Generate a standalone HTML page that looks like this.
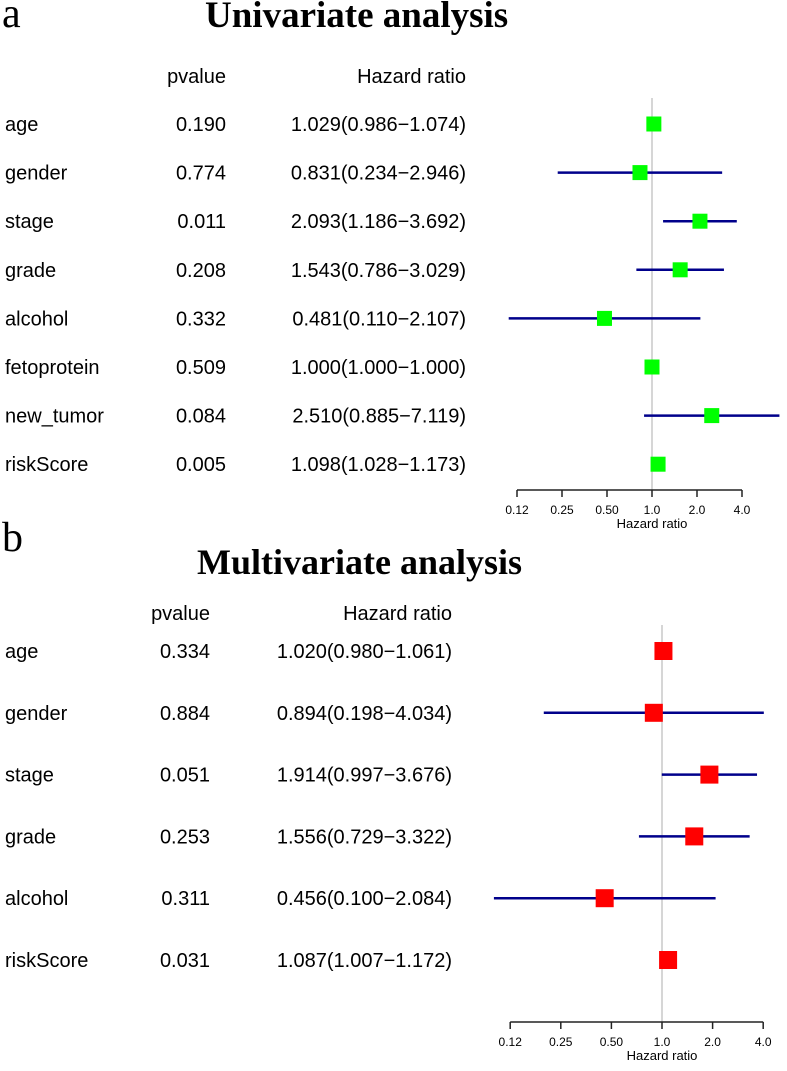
<!DOCTYPE html>
<html><head><meta charset="utf-8"><style>
body{margin:0;background:#fff}
svg text{font-family:"Liberation Sans",Arial,sans-serif}
.ser{font-family:"Liberation Serif","Times New Roman",serif}
</style></head><body>
<svg id="c" width="787" height="1066" xmlns="http://www.w3.org/2000/svg"></svg>
<script>
const uniNames=["age","gender","stage","grade","alcohol","fetoprotein","new_tumor","riskScore"];
const uniP=["0.190","0.774","0.011","0.208","0.332","0.509","0.084","0.005"];
const uniHR=[1.029,0.831,2.093,1.543,0.481,1.000,2.510,1.098];
const uniLo=[0.986,0.234,1.186,0.786,0.110,1.000,0.885,1.028];
const uniHi=[1.074,2.946,3.692,3.029,2.107,1.000,7.119,1.173];
const multiNames=["age","gender","stage","grade","alcohol","riskScore"];
const multiP=["0.334","0.884","0.051","0.253","0.311","0.031"];
const multiHR=[1.020,0.894,1.914,1.556,0.456,1.087];
const multiLo=[0.980,0.198,0.997,0.729,0.100,1.007];
const multiHi=[1.061,4.034,3.676,3.322,2.084,1.172];
const tickVals=[0.125,0.25,0.5,1,2,4];
const tickLabels=["0.12","0.25","0.50","1.0","2.0","4.0"];
const NS="http://www.w3.org/2000/svg";
const svg=document.getElementById('c');
function mk(tag,attrs,txt,parent){const e=document.createElementNS(NS,tag);for(const k in attrs)e.setAttribute(k,attrs[k]);if(txt!=null)e.textContent=txt;(parent||svg).appendChild(e);return e;}
function fmt(v){return v.toFixed(3);}
function panel(o){
  const g=mk('g',{});
  
  
  const xs=v=>o.x1+Math.log2(v)*o.k;
  let t=mk('text',{x:2,y:o.letterY,'font-size':42,class:'ser'},o.letter,g);
  
  t=mk('text',{x:o.titleX,y:o.titleY,'font-size':o.titleSize,'font-weight':'bold',class:'ser'},o.title,g);
  
  t=mk('text',{x:o.pR,y:o.headY,'font-size':20,'text-anchor':'end'},'pvalue',g);
  
  t=mk('text',{x:o.hrR,y:o.headY,'font-size':20,'text-anchor':'end'},'Hazard ratio',g);
  
  let l=mk('line',{x1:xs(1),x2:xs(1),y1:o.refTop,y2:o.axisY,stroke:'#c8c8c8','stroke-width':1.5},null,g);
  
  o.names.forEach((n,i)=>{
    const y=o.row0+i*o.dy;
    let a=mk('text',{x:5,y:y+7,'font-size':20},n,g);
    
    a=mk('text',{x:o.pR,y:y+7,'font-size':20,'text-anchor':'end'},o.p[i],g);
    
    a=mk('text',{x:o.hrR,y:y+7,'font-size':20,'text-anchor':'end'},fmt(o.hr[i])+'('+fmt(o.lo[i])+'\u2212'+fmt(o.hi[i])+')',g);
    
    const lx=Math.max(xs(o.lo[i]),0),hx=Math.min(xs(o.hi[i]),784);
    a=mk('line',{x1:lx,x2:hx,y1:y,y2:y,stroke:'#00008B','stroke-width':2.5},null,g);
    
    const s=o.sq;
    a=mk('rect',{x:xs(o.hr[i])-s/2,y:y-s/2,width:s,height:s,fill:o.color},null,g);
    
  });
  const ax=mk('g',{},null,g);
  
  mk('line',{x1:xs(tickVals[0]),x2:xs(tickVals[tickVals.length-1]),y1:o.axisY,y2:o.axisY,stroke:'#222','stroke-width':1.5},null,ax);
  tickVals.forEach((v,i)=>{
    mk('line',{x1:xs(v),x2:xs(v),y1:o.axisY,y2:o.axisY+7,stroke:'#222','stroke-width':1.5},null,ax);
    const tt=mk('text',{x:xs(v),y:o.axisY+24,'font-size':12,'text-anchor':'middle'},tickLabels[i],ax);
    
  });
  t=mk('text',{x:xs(1),y:o.axisY+38,'font-size':13,'text-anchor':'middle'},'Hazard ratio',ax);
  
}
panel({id:'univariate',letter:'a',letterY:27,title:'Univariate analysis',titleSize:37,titleX:205,titleY:27,headY:83,pR:226,hrR:466,
  names:uniNames,p:uniP,hr:uniHR,lo:uniLo,hi:uniHi,row0:124,dy:48.6,x1:652,k:45,axisY:490,refTop:98,sq:15,color:'#00ff00'});
panel({id:'multivariate',letter:'b',letterY:551,title:'Multivariate analysis',titleSize:36,titleX:197,titleY:574,headY:620,pR:210,hrR:452,
  names:multiNames,p:multiP,hr:multiHR,lo:multiLo,hi:multiHi,row0:651,dy:61.8,x1:662,k:50.6,axisY:1022,refTop:625,sq:18,color:'#ff0000'});
</script>
</body></html>
